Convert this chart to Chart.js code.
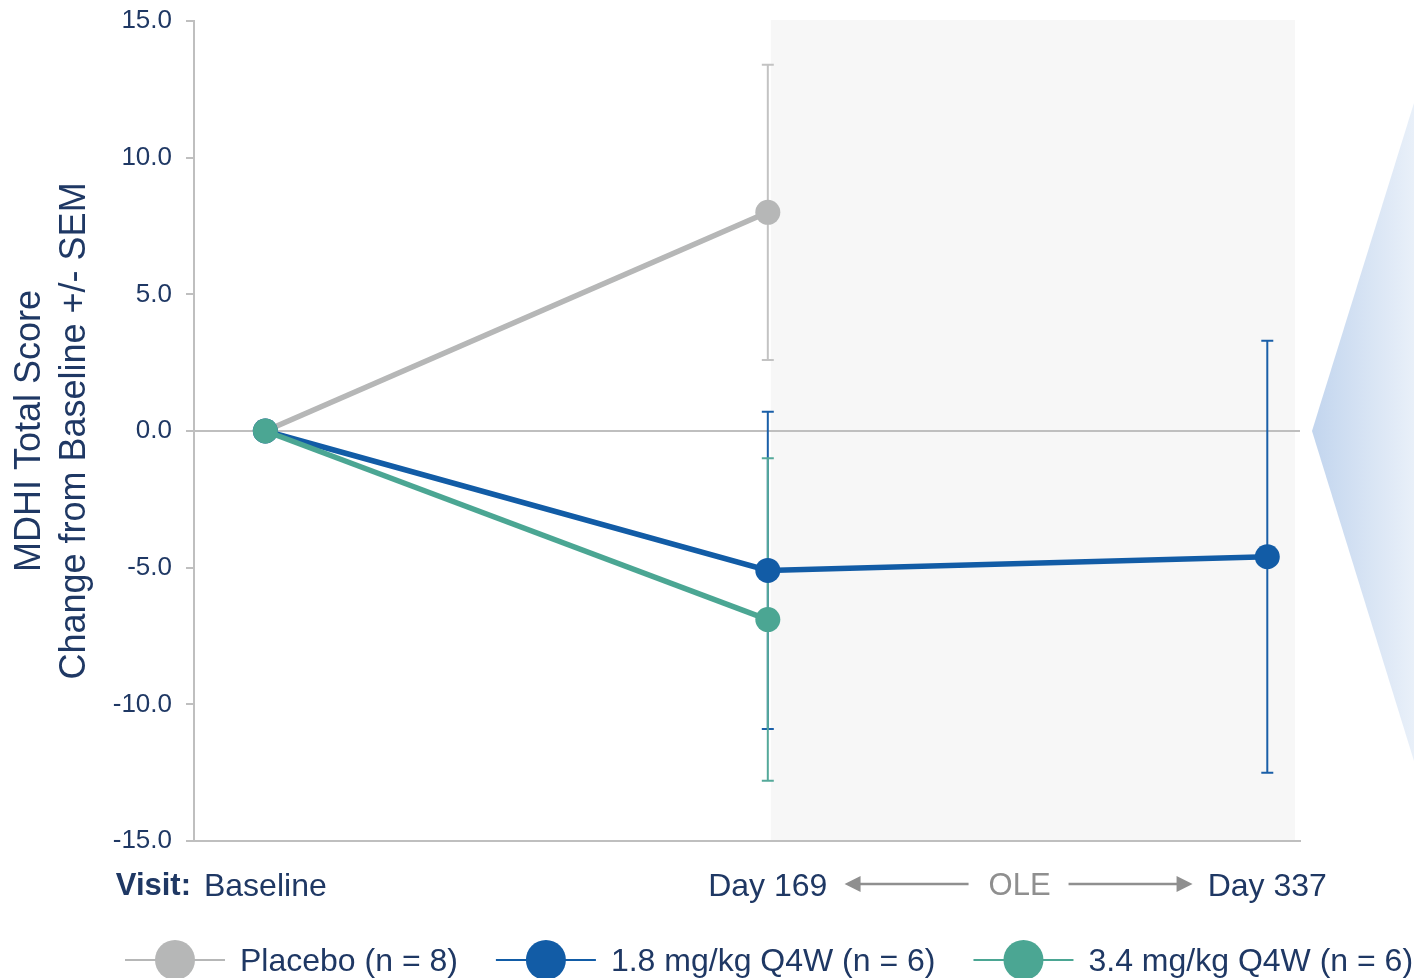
<!DOCTYPE html>
<html>
<head>
<meta charset="utf-8">
<script src="https://cdn.jsdelivr.net/npm/chart.js@4.4.0/dist/chart.umd.min.js"></script>
<style>
  html, body { margin: 0; padding: 0; background: #fff; overflow: hidden; }
</style>
</head>
<body>
<canvas id="mdhiChart" width="1414" height="978"></canvas>
<script>
// MDHI total score - change from baseline +/- SEM

var visitDays = [0, 169, 337];
var visitLabels = ['Baseline', 'Day 169', 'Day 337'];
var yTicks = [-15, -10, -5, 0, 5, 10, 15];

var seriesNames = ['Placebo (n = 8)', '1.8 mg/kg Q4W (n = 6)', '3.4 mg/kg Q4W (n = 6)'];
var seriesColors = ['#b6b7b7', '#125ca6', '#4ba693'];
var errorColors = ['#c3c3c3', '#1a5fa8', '#55a99a'];

// mean change and SEM per visit (null = not measured)
var placeboMean = [0, 8.0, null];
var placeboSem = [0, 5.4, null];
var q4w18Mean = [0, -5.1, -4.6];
var q4w18Sem = [0, 5.8, 7.9];
var q4w34Mean = [0, -6.9, null];
var q4w34Sem = [0, 5.9, null];

var navy = '#1f3864';
var fontFamily = '"Liberation Sans", Arial, sans-serif';
Chart.defaults.font.family = fontFamily;

function toPoints(means, sems) {
    var pts = [];
    for (var i = 0; i < visitDays.length; i++) {
        if (means[i] === null) continue;
        pts.push({ x: visitDays[i], y: means[i], sem: sems[i] });
    }
    return pts;
}

function makeDataset(idx, means, sems, order) {
    return {
        label: seriesNames[idx],
        data: toPoints(means, sems),
        borderColor: seriesColors[idx],
        backgroundColor: seriesColors[idx],
        pointBackgroundColor: seriesColors[idx],
        pointBorderWidth: 0,
        pointRadius: 12.5,
        borderWidth: 5.5,
        tension: 0,
        errorColor: errorColors[idx],
        order: order
    };
}

// grey OLE band behind everything
var oleBand = {
    id: 'oleBand',
    beforeDraw: function(chart) {
        var ctx = chart.ctx, area = chart.chartArea, x = chart.scales.x;
        ctx.save();
        ctx.fillStyle = '#f7f7f7';
        var left = x.getPixelForValue(170);
        ctx.fillRect(left, area.top - 1, area.right - 5 - left, area.bottom - area.top + 1);
        ctx.restore();
    }
};

// SEM whiskers, under the lines and points
var errorBars = {
    id: 'errorBars',
    beforeDatasetsDraw: function(chart) {
        var ctx = chart.ctx, yScale = chart.scales.y;
        chart.data.datasets.forEach(function(ds, di) {
            var meta = chart.getDatasetMeta(di);
            ctx.save();
            ctx.strokeStyle = ds.errorColor;
            ctx.lineWidth = 2;
            meta.data.forEach(function(pt, i) {
                var d = ds.data[i];
                if (!d.sem) return;
                var top = yScale.getPixelForValue(d.y + d.sem);
                var bot = yScale.getPixelForValue(d.y - d.sem);
                ctx.beginPath();
                ctx.moveTo(pt.x, top); ctx.lineTo(pt.x, bot);
                ctx.moveTo(pt.x - 6, top); ctx.lineTo(pt.x + 6, top);
                ctx.moveTo(pt.x - 6, bot); ctx.lineTo(pt.x + 6, bot);
                ctx.stroke();
            });
            ctx.restore();
        });
    }
};

function arrow(ctx, x1, x2, y) {
    var dir = x2 > x1 ? 1 : -1;
    ctx.beginPath();
    ctx.moveTo(x1, y);
    ctx.lineTo(x2 - dir * 14, y);
    ctx.stroke();
    ctx.beginPath();
    ctx.moveTo(x2, y);
    ctx.lineTo(x2 - dir * 16, y - 8);
    ctx.lineTo(x2 - dir * 16, y + 8);
    ctx.closePath();
    ctx.fill();
}

// "Visit:" label, OLE arrows, side wedge and legend
var extras = {
    id: 'extras',
    afterDraw: function(chart) {
        var ctx = chart.ctx, x = chart.scales.x, y = chart.scales.y;
        var labelY = 886;
        ctx.save();

        // side wedge pointing at the zero line
        var tipY = y.getPixelForValue(0);
        var grad = ctx.createLinearGradient(1312, 0, 1414, 0);
        grad.addColorStop(0, '#c2d5ee');
        grad.addColorStop(1, '#e9f0f9');
        ctx.fillStyle = grad;
        ctx.beginPath();
        ctx.moveTo(1312, tipY);
        ctx.lineTo(1414, tipY - 328);
        ctx.lineTo(1414, tipY + 330);
        ctx.closePath();
        ctx.fill();

        ctx.textBaseline = 'middle';
        ctx.fillStyle = navy;
        ctx.textAlign = 'right';
        ctx.font = 'bold 31px ' + fontFamily;
        ctx.fillText('Visit:', 191, labelY);

        // OLE between Day 169 and Day 337
        var c = (x.getPixelForValue(169) + x.getPixelForValue(337)) / 2 + 2;
        ctx.fillStyle = '#8f8f8f';
        ctx.strokeStyle = '#8f8f8f';
        ctx.lineWidth = 2.5;
        ctx.textAlign = 'center';
        ctx.font = '31px ' + fontFamily;
        ctx.fillText('OLE', c, labelY);
        arrow(ctx, c - 51, c - 175, labelY - 2);
        arrow(ctx, c + 49, c + 173, labelY - 2);

        // legend: line + marker + text
        var lx = 125, ly = 960;
        ctx.textAlign = 'left';
        ctx.font = '32px ' + fontFamily;
        for (var i = 0; i < seriesNames.length; i++) {
            ctx.strokeStyle = seriesColors[i];
            ctx.fillStyle = seriesColors[i];
            ctx.lineWidth = 2;
            ctx.beginPath();
            ctx.moveTo(lx, ly);
            ctx.lineTo(lx + 100, ly);
            ctx.stroke();
            ctx.beginPath();
            ctx.arc(lx + 50, ly, 20, 0, Math.PI * 2);
            ctx.fill();
            ctx.fillStyle = navy;
            ctx.fillText(seriesNames[i], lx + 115, ly + 2);
            lx += 115 + ctx.measureText(seriesNames[i]).width + 38;
        }
        ctx.restore();
    }
};

var ctx = document.getElementById('mdhiChart');

var mdhiChart = new Chart(ctx, {
    type: 'line',
    data: {
        datasets: [
            makeDataset(0, placeboMean, placeboSem, 2),
            makeDataset(1, q4w18Mean, q4w18Sem, 1),
            makeDataset(2, q4w34Mean, q4w34Sem, 0)
        ]
    },
    options: {
        responsive: false,
        animation: false,
        devicePixelRatio: 1,
        layout: { padding: { top: 21, right: 114, left: 0, bottom: 0 } },
        plugins: {
            legend: { display: false },
            tooltip: { enabled: false }
        },
        scales: {
            x: {
                type: 'linear',
                min: -24,
                max: 348,
                afterBuildTicks: function(axis) {
                    axis.ticks = visitDays.map(function(d) { return { value: d }; });
                },
                afterFit: function(axis) {
                    axis.height = 137;
                    axis.paddingLeft = 0;
                    axis.paddingRight = 0;
                },
                grid: { display: false, drawTicks: false },
                border: { display: true, color: '#bfbfbf', width: 2 },
                ticks: {
                    autoSkip: false,
                    maxRotation: 0,
                    padding: 27,
                    color: navy,
                    font: { size: 32 },
                    callback: function(v) { return visitLabels[visitDays.indexOf(v)]; }
                }
            },
            y: {
                min: -15,
                max: 15,
                afterBuildTicks: function(axis) {
                    axis.ticks = yTicks.map(function(v) { return { value: v }; });
                },
                afterFit: function(axis) {
                    axis.width = 194;
                    axis.paddingTop = 0;
                    axis.paddingBottom = 0;
                },
                grid: {
                    drawOnChartArea: true,
                    color: function(c) { return c.tick && c.tick.value === 0 ? '#bfbfbf' : 'rgba(0,0,0,0)'; },
                    tickColor: '#bfbfbf',
                    tickLength: 8,
                    lineWidth: 2
                },
                border: { display: true, color: '#bfbfbf', width: 2 },
                ticks: {
                    padding: 14,
                    color: navy,
                    font: { size: 26 },
                    callback: function(v) { return v.toFixed(1); }
                },
                title: {
                    display: true,
                    text: ['MDHI Total Score', 'Change from Baseline +/- SEM'],
                    color: navy,
                    font: { size: 36, lineHeight: 1.25 },
                    padding: { top: 8, bottom: 0 }
                }
            }
        }
    },
    plugins: [oleBand, errorBars, extras]
});
</script>
</body>
</html>
